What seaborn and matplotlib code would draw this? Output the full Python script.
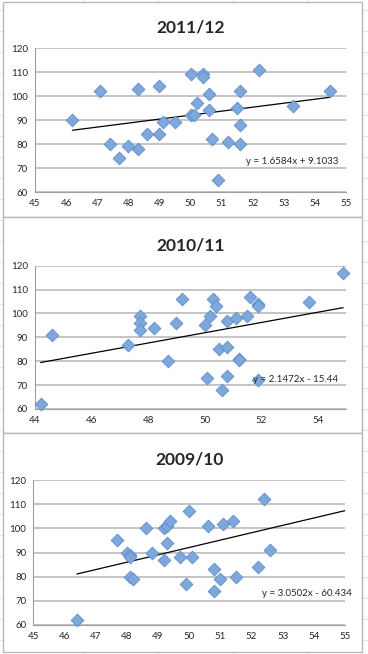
import numpy as np
import pandas as pd
import seaborn as sns
import matplotlib.pyplot as plt
from matplotlib.patches import Rectangle
from matplotlib.lines import Line2D

# 2011/12
x_1112 = [46.2, 47.1, 47.4, 47.7, 48.0, 48.3, 48.3, 48.6, 49.0, 49.0, 49.1, 49.5,
          50.0, 50.0, 50.1, 50.2, 50.4, 50.4, 50.6, 50.6, 50.7, 50.9, 51.2, 51.5,
          51.6, 51.6, 51.6, 52.2, 53.3, 54.5]
y_1112 = [90, 102, 80, 74, 79, 78, 103, 84, 104, 84, 89, 89,
          109, 92, 92, 97, 109, 108, 101, 94, 82, 65, 81, 95,
          102, 88, 80, 111, 96, 102]

# 2010/11
x_1011 = [44.2, 44.6, 47.3, 47.7, 47.7, 47.7, 48.2, 48.7, 49.0, 49.2, 50.0, 50.1,
          50.2, 50.3, 50.4, 50.5, 50.6, 50.8, 50.8, 50.8, 51.1, 51.2, 51.2, 51.5,
          51.6, 51.9, 51.9, 51.9, 53.7, 54.9]
y_1011 = [62, 91, 87, 99, 96, 93, 94, 80, 96, 106, 95, 73,
          99, 106, 103, 85, 68, 97, 86, 74, 98, 81, 80.5, 99,
          107, 104, 103, 72, 105, 117]

# 2009/10
x_0910 = [46.4, 47.7, 48.0, 48.1, 48.1, 48.1, 48.2, 48.6, 48.8, 49.2, 49.2, 49.3,
          49.3, 49.4, 49.7, 49.9, 50.0, 50.1, 50.6, 50.8, 50.8, 51.0, 51.1, 51.4,
          51.5, 52.2, 52.4, 52.6]
y_0910 = [62, 95, 90, 89, 88, 80, 79, 100, 90, 87, 100, 101,
          94, 103, 88, 77, 107, 88, 101, 83, 74, 79, 102, 103,
          80, 84, 112, 91]

titles = ['2011/12', '2010/11', '2009/10']
slopes = [1.6584, 2.1472, 3.0502]
intercepts = [9.1033, -15.44, -60.434]
equations = ['y = 1.6584x + 9.1033', 'y = 2.1472x - 15.44', 'y = 3.0502x - 60.434']
trend_ranges = [(46.2, 54.5), (44.2, 54.9), (46.4, 55.0)]
x_limits = [(45, 55), (44, 55), (45, 55)]
x_steps = [1, 2, 1]

sns.set_theme(style='white')
plt.rcParams['font.family'] = ['Lato', 'DejaVu Sans']

W, H = 368, 654
fig = plt.figure(figsize=(W / 100, H / 100), dpi=100)

# faint spreadsheet cells behind the charts
for xc in [83, 158, 233, 308]:
    fig.add_artist(Line2D([xc / W, xc / W], [0, 1], color='#e4e4e4', lw=0.8, zorder=0))
for yc in range(10, H, 21):
    fig.add_artist(Line2D([0, 3 / W], [1 - yc / H, 1 - yc / H], color='#e4e4e4', lw=0.8, zorder=0))
    fig.add_artist(Line2D([362 / W, 1], [1 - yc / H, 1 - yc / H], color='#e4e4e4', lw=0.8, zorder=0))

# chart frames (pixel top, bottom)
frames = [(2, 217), (217, 433), (433, 652)]
for top, bot in frames:
    fig.add_artist(Rectangle((3 / W, 1 - bot / H), 359 / W, (bot - top) / H,
                             facecolor='white', edgecolor='#b8b8b8', lw=1.0, zorder=1))

# axes boxes in pixels: left, right, top, bottom
boxes = [(35, 346, 48, 192), (35, 346, 265.7, 409), (33.3, 345, 480, 625)]
eq_pos = [(0.974, 0.215), (0.974, 0.209), (1.022, 0.22)]

datasets = [(x_1112, y_1112), (x_1011, y_1011), (x_0910, y_0910)]

for i, (xs, ys) in enumerate(datasets):
    l, r, t, b = boxes[i]
    ax = fig.add_axes([l / W, 1 - b / H, (r - l) / W, (b - t) / H])
    ax.set_zorder(2)
    ax.patch.set_alpha(0)
    df = pd.DataFrame({'x': xs, 'y': ys})

    sns.scatterplot(data=df, x='x', y='y', marker='D', s=42, color='#7ea8dc',
                    edgecolor='#5d8ccb', linewidth=0.6, ax=ax, zorder=4, clip_on=False)

    tx = np.array(trend_ranges[i])
    sns.lineplot(x=tx, y=slopes[i] * tx + intercepts[i], color='black', lw=0.9,
                 ax=ax, zorder=3)

    ax.set_xlim(*x_limits[i])
    ax.set_ylim(60, 120)
    ax.set_xticks(np.arange(x_limits[i][0], x_limits[i][1] + 0.01, x_steps[i]))
    ax.set_yticks(range(60, 121, 10))
    ax.yaxis.grid(True, color='#c4c4c4', lw=1.4)
    ax.set_axisbelow(True)
    for s in ['top', 'right']:
        ax.spines[s].set_visible(False)
    for s in ['left', 'bottom']:
        ax.spines[s].set_color('#a0a0a0')
        ax.spines[s].set_linewidth(0.8)
    ax.tick_params(axis='both', direction='out', length=3, width=0.8, color='#a0a0a0',
                   labelsize=7, pad=2)
    ax.set_xlabel('')
    ax.set_ylabel('')
    ax.set_title(titles[i], fontsize=12.5, fontweight='bold', pad=11)
    ax.text(eq_pos[i][0], eq_pos[i][1], equations[i], transform=ax.transAxes,
            ha='right', va='center', fontsize=7, zorder=6)

fig.savefig('out.png', dpi=100)
